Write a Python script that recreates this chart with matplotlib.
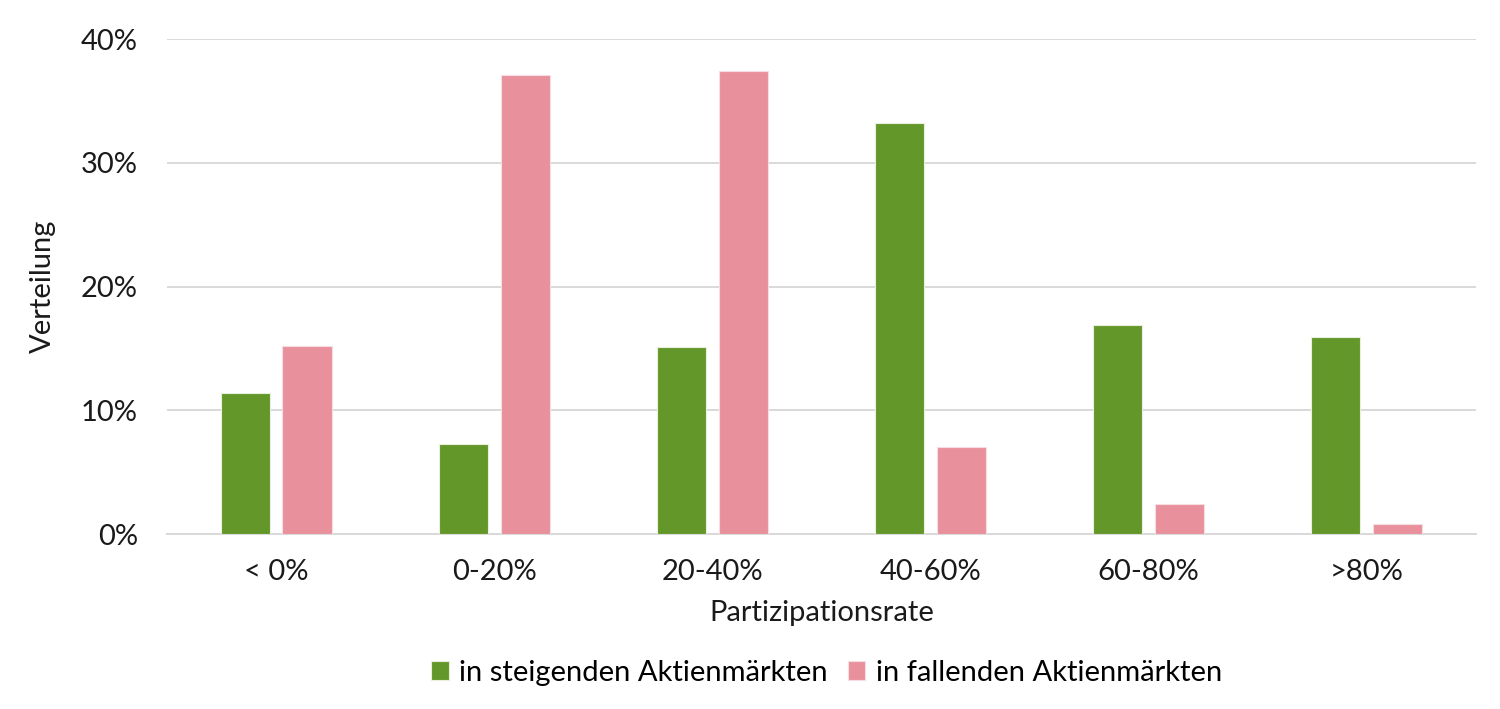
import matplotlib
matplotlib.use("Agg")
import matplotlib.pyplot as plt
import numpy as np
from matplotlib.ticker import FuncFormatter

categories = ["< 0%", "0-20%", "20-40%", "40-60%", "60-80%", ">80%"]
steigend = [11.4, 7.3, 15.1, 33.2, 16.9, 15.9]
fallend = [15.2, 37.1, 37.4, 7.0, 2.4, 0.8]
series_names = ["in steigenden Aktienmärkten", "in fallenden Aktienmärkten"]

plt.rcParams['font.family'] = ['Lato', 'DejaVu Sans']

fig = plt.figure(figsize=(15, 7.09), dpi=100)
ax = fig.add_axes([0.1113, 0.2468, 0.8727, 0.698])

x = np.arange(len(categories))
w = 0.225
off = 0.142
green = "#64972A"
pink = "#E8919C"
ax.bar(x - off, steigend, w, color=green, edgecolor="#e8f0dc", linewidth=0.8, label=series_names[0], zorder=3)
ax.bar(x + off, fallend, w, color=pink, edgecolor="#f7dde1", linewidth=0.8, label=series_names[1], zorder=3)

fs = 21
ax.set_xlim(-0.5, len(categories) - 0.5)
ax.set_ylim(0, 40)
ax.set_yticks([0, 10, 20, 30, 40])
ax.yaxis.set_major_formatter(FuncFormatter(lambda v, p: f"{v:.0f}%"))
ax.set_xticks(x)
ax.set_xticklabels(categories)
ax.grid(axis='y', color="#d9d9d9", linewidth=1.4, zorder=0)
for s in ["top", "right", "left"]:
    ax.spines[s].set_visible(False)
ax.spines["bottom"].set_color("#d9d9d9")
ax.spines["bottom"].set_linewidth(1.4)
ax.tick_params(axis='both', length=0, labelsize=fs, colors="#1a1a1a")
ax.tick_params(axis='x', pad=18)
ax.tick_params(axis='y', pad=21)
ax.set_xlabel("Partizipationsrate", fontsize=fs, color="#1a1a1a", labelpad=11)
ax.set_ylabel("Verteilung", fontsize=fs, color="#1a1a1a", labelpad=18)

fig.legend(loc="center", bbox_to_anchor=(0.551, 0.051), ncol=2, frameon=False,
           fontsize=fs, handlelength=0.6, handleheight=0.6, handletextpad=0.35, columnspacing=0.7)

fig.savefig("out.png", dpi=100)
